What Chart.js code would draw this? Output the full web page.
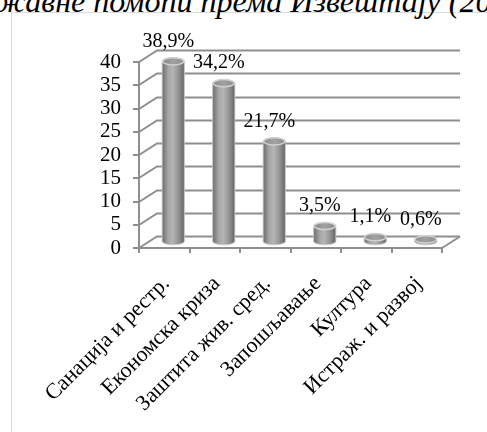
<!DOCTYPE html>
<html>
<head>
<meta charset="utf-8">
<script src="https://cdn.jsdelivr.net/npm/chart.js@4/dist/chart.umd.min.js"></script>
<style>
  html, body { margin: 0; padding: 0; background: #ffffff; }
  #wrap { position: relative; width: 487px; height: 432px; overflow: hidden; }
  #frame { position: absolute; left: 11px; top: 12px; width: 520px; height: 460px;
           border: 1px solid #dadada; box-sizing: border-box; }
  #title { position: absolute; left: -4px; top: -15px; white-space: nowrap;
           font: italic 32px/32px "Liberation Serif", "DejaVu Serif", serif; color: #000; }
  #chart { position: absolute; left: 0; top: 0; }
</style>
</head>
<body>
<div id="wrap">
  <div id="frame"></div>
  <div id="title">жавне помоћи према Извештају (20</div>
  <canvas id="chart" width="487" height="432"></canvas>
</div>
<script>
// Shares of state aid by purpose, in percent
const categories = ['Санација и рестр.', 'Економска криза', 'Заштита жив. сред.', 'Запошљавање', 'Култура', 'Истраж. и развој'];
const shares = [38.9, 34.2, 21.7, 3.5, 1.1, 0.6];
const yTickValues = [0, 5, 10, 15, 20, 25, 30, 35, 40];

const GRID = '#8e8e8e';
const SERIF = '"Liberation Serif", "DejaVu Serif", serif';
const Y_FONT = { family: SERIF, size: 21 };
const X_FONT = { family: SERIF, size: 22 };
const VALUE_FONT_SIZE = 20;
// depth of the 3D box (front plane -> back wall)
const DEPTH_X = 18, DEPTH_Y = -11.5;

function fmt(v) { return v.toFixed(1).replace('.', ',') + '%'; }

function drawCylinder(ctx, cx, top, bottom, r, ry) {
  const g = ctx.createLinearGradient(cx - r, 0, cx + r, 0);
  g.addColorStop(0, '#6c6c6c');
  g.addColorStop(0.28, '#a8a8a8');
  g.addColorStop(0.48, '#b4b4b4');
  g.addColorStop(0.75, '#929292');
  g.addColorStop(1, '#646464');
  ctx.beginPath();
  ctx.moveTo(cx - r, top);
  ctx.lineTo(cx - r, bottom);
  ctx.ellipse(cx, bottom, r, ry, 0, Math.PI, 0, true);
  ctx.lineTo(cx + r, top);
  ctx.ellipse(cx, top, r, ry, 0, 0, Math.PI, true);
  ctx.closePath();
  ctx.fillStyle = g;
  ctx.fill();
  ctx.strokeStyle = 'rgba(200,200,200,0.9)';
  ctx.lineWidth = 1;
  ctx.stroke();
  // top cap
  const cg = ctx.createLinearGradient(cx - r, 0, cx + r, 0);
  cg.addColorStop(0, '#8a8a8a');
  cg.addColorStop(0.5, '#a2a2a2');
  cg.addColorStop(1, '#8a8a8a');
  ctx.beginPath();
  ctx.ellipse(cx, top, r - 0.5, ry, 0, 0, Math.PI * 2);
  ctx.fillStyle = cg;
  ctx.fill();
  ctx.strokeStyle = '#d2d2d2';
  ctx.lineWidth = 1.5;
  ctx.stroke();
}

const box3d = {
  id: 'box3d',
  beforeDatasetsDraw(chart) {
    const ctx = chart.ctx;
    const y = chart.scales.y;
    const left = chart.chartArea.left, right = chart.chartArea.right;
    ctx.save();
    ctx.strokeStyle = GRID;
    ctx.lineWidth = 2;
    ctx.lineCap = 'butt';
    yTickValues.forEach(v => {
      const py = Math.round(y.getPixelForValue(v));
      ctx.beginPath();
      ctx.moveTo(left, py);
      ctx.lineTo(left + DEPTH_X, py + DEPTH_Y);
      ctx.lineTo(right + DEPTH_X, py + DEPTH_Y);
      ctx.stroke();
    });
    // right edge of the floor
    const p0 = Math.round(y.getPixelForValue(0));
    ctx.beginPath();
    ctx.moveTo(right, p0);
    ctx.lineTo(right + DEPTH_X, p0 + DEPTH_Y);
    ctx.stroke();
    ctx.restore();
  },
  afterDatasetsDraw(chart) {
    const ctx = chart.ctx;
    const meta = chart.getDatasetMeta(0);
    ctx.save();
    meta.data.forEach(el => {
      const cx = el.x + DEPTH_X / 2;
      const top = el.y + DEPTH_Y / 2;
      const bottom = el.base + DEPTH_Y / 2;
      drawCylinder(ctx, cx, top, bottom, el.width / 2, 3.6);
    });
    ctx.fillStyle = '#000';
    ctx.font = VALUE_FONT_SIZE + 'px ' + SERIF;
    ctx.textAlign = 'center';
    ctx.textBaseline = 'middle';
    meta.data.forEach((el, i) => {
      const cx = el.x + DEPTH_X / 2 - 5;
      const top = el.y + DEPTH_Y / 2;
      ctx.fillText(fmt(shares[i]), cx, top - 20);
    });
    ctx.restore();
  }
};

new Chart(document.getElementById('chart'), {
  type: 'bar',
  data: {
    labels: categories,
    datasets: [{
      data: shares,
      backgroundColor: 'rgba(0,0,0,0)',
      borderWidth: 0,
      categoryPercentage: 1,
      barPercentage: 0.44
    }]
  },
  options: {
    responsive: false,
    animation: false,
    layout: { padding: { top: 62, right: 45, left: 0, bottom: 0 } },
    plugins: { legend: { display: false }, tooltip: { enabled: false } },
    scales: {
      x: {
        offset: true,
        grid: { offset: true, drawOnChartArea: false, drawTicks: true, tickLength: 5, color: GRID, lineWidth: 2 },
        border: { display: true, color: GRID, width: 2 },
        ticks: { color: '#000', font: X_FONT, maxRotation: 45, minRotation: 45, autoSkip: false, padding: 18, labelOffset: 2 },
        afterFit(scale) { scale.height = 184; }
      },
      y: {
        min: 0, max: 40,
        afterBuildTicks(scale) { scale.ticks = yTickValues.map(v => ({ value: v })); },
        grid: { drawOnChartArea: false, drawTicks: true, tickLength: 6, color: GRID, lineWidth: 2 },
        border: { display: true, color: GRID, width: 2 },
        ticks: { color: '#000', font: Y_FONT, padding: 12, autoSkip: false },
        afterFit(scale) { scale.width = 139; }
      }
    }
  },
  plugins: [box3d]
});
</script>
</body>
</html>
